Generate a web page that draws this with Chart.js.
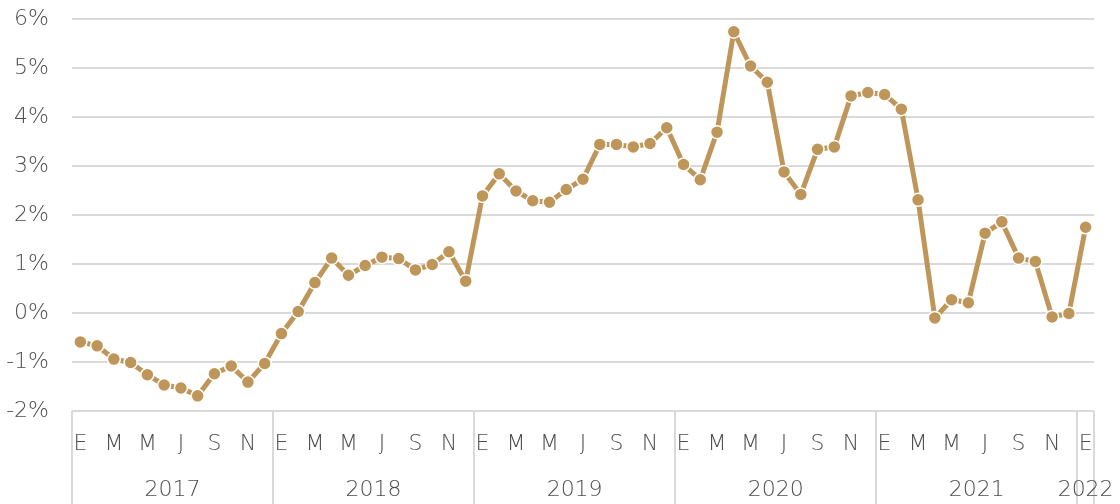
<!DOCTYPE html>
<html>
<head>
<meta charset="utf-8">
<script src="https://cdn.jsdelivr.net/npm/chart.js@4"></script>
<style>
html,body{margin:0;padding:0;background:#fff;}
#wrap{width:1120px;height:504px;position:relative;}
</style>
</head>
<body>
<div id="wrap"><canvas id="c" width="1120" height="504"></canvas></div>
<script>
const monthLetters = ['E','F','M','A','M','J','J','A','S','O','N','D'];
const years = ['2017','2018','2019','2020','2021','2022'];
const yTicks = [-2,-1,0,1,2,3,4,5,6];

const v2017 = [-0.59,-0.67,-0.94,-1.01,-1.26,-1.47,-1.53,-1.69,-1.24,-1.08,-1.41,-1.03];
const v2018 = [-0.42,0.03,0.62,1.12,0.77,0.97,1.14,1.11,0.88,0.99,1.25,0.65];
const v2019 = [2.39,2.84,2.49,2.29,2.26,2.52,2.73,3.44,3.44,3.39,3.46,3.78];
const v2020 = [3.03,2.72,3.69,5.74,5.04,4.71,2.88,2.42,3.34,3.39,4.43,4.50];
const v2021 = [4.46,4.16,2.31,-0.10,0.27,0.21,1.63,1.86,1.12,1.05,-0.08,-0.01];
const v2022 = [1.75];

const yearSeries = [v2017,v2018,v2019,v2020,v2021,v2022];
const labels = [];
const yearOf = [];
const values = [];
yearSeries.forEach((arr,yi)=>{
  arr.forEach((v,mi)=>{
    labels.push(monthLetters[mi]);
    yearOf.push(yi);
    values.push(v);
  });
});

const GRID = '#d9d9d9';
const TEXT = '#4d4d4d';
const FONT = "'DejaVu Sans', sans-serif";
const FSIZE = 22;
const FWEIGHT = 300;

const yearPlugin = {
  id:'yearPlugin',
  afterDraw(chart){
    const ctx = chart.ctx;
    const xs = chart.scales.x;
    const area = chart.chartArea;
    const bottom = chart.height;
    const groups = [];
    let start = 0;
    for(let i=1;i<=yearOf.length;i++){
      if(i===yearOf.length || yearOf[i]!==yearOf[i-1]){
        groups.push([start,i-1,yearOf[start]]);
        start = i;
      }
    }
    const half = (xs.getPixelForValue(1)-xs.getPixelForValue(0))/2;
    ctx.save();
    ctx.strokeStyle = GRID;
    ctx.lineWidth = 2;
    const bounds = new Set();
    groups.forEach(g=>{
      bounds.add(Math.round(xs.getPixelForValue(g[0])-half));
      bounds.add(Math.round(xs.getPixelForValue(g[1])+half));
    });
    bounds.forEach(x=>{
      ctx.beginPath();
      ctx.moveTo(x,area.bottom);
      ctx.lineTo(x,bottom);
      ctx.stroke();
    });
    ctx.fillStyle = TEXT;
    ctx.font = FWEIGHT + " " + FSIZE + "px " + FONT;
    ctx.textAlign = 'center';
    ctx.textBaseline = 'middle';
    groups.forEach(g=>{
      const x0 = xs.getPixelForValue(g[0])-half;
      const x1 = xs.getPixelForValue(g[1])+half;
      ctx.fillText(years[g[2]], (x0+x1)/2, 490);
    });
    ctx.restore();
  }
};

new Chart(document.getElementById('c'),{
  type:'line',
  data:{
    labels:labels,
    datasets:[{
      data:values,
      borderColor:'#BF965A',
      backgroundColor:'#BF965A',
      borderWidth:5,
      tension:0,
      pointRadius:6.5,
      pointHoverRadius:6.5,
      pointBackgroundColor:'#BF965A',
      pointBorderColor:'#ffffff',
      pointBorderWidth:1.5
    }]
  },
  options:{
    responsive:false,
    animation:false,
    layout:{padding:{top:19,right:26,left:0,bottom:0}},
    plugins:{legend:{display:false},tooltip:{enabled:false}},
    scales:{
      x:{
        type:'category',
        offset:true,
        grid:{display:false,drawTicks:false},
        border:{display:false},
        ticks:{
          autoSkip:false,
          maxRotation:0,
          minRotation:0,
          padding:20,
          color:TEXT,
          font:{size:FSIZE,family:FONT,weight:FWEIGHT},
          callback:function(val,idx){ return idx%2===0 ? labels[idx] : ''; }
        },
        afterFit:function(s){ s.height = 93; s.paddingLeft = 0; s.paddingRight = 0; }
      },
      y:{
        min:-2,max:6,
        grid:{color:GRID,lineWidth:2,drawTicks:false},
        border:{display:false},
        afterBuildTicks:function(s){ s.ticks = yTicks.map(v=>({value:v})); },
        ticks:{
          padding:23,
          color:TEXT,
          font:{size:FSIZE,family:FONT,weight:FWEIGHT},
          callback:function(v){ return v + '%'; }
        },
        afterFit:function(s){ s.width = 72; s.paddingTop = 0; s.paddingBottom = 0; }
      }
    }
  },
  plugins:[yearPlugin]
});
</script>
</body>
</html>
